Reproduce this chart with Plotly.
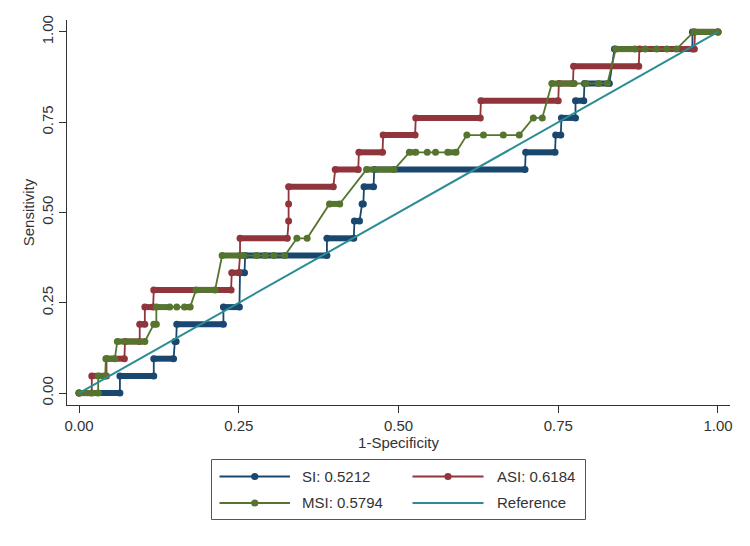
import plotly.graph_objects as go

N_POS = 21  # number of positive cases (sensitivity steps of 1/21)

# ---- SI : each step = horizontal run of ROC points at one sensitivity level ----
si_start = [0.000, 0.064, 0.117, 0.150, 0.153, 0.226, 0.252, 0.260, 0.388, 0.431, 0.443, 0.446,
            0.462, 0.699, 0.746, 0.755, 0.777, 0.791, 0.838, 0.960]
si_end = [0.064, 0.117, 0.148, 0.152, 0.226, 0.251, 0.259, 0.388, 0.430, 0.439, 0.445, 0.461,
          0.698, 0.745, 0.754, 0.777, 0.790, 0.830, 0.960, 1.000]
si_tp = [0, 1, 2, 3, 4, 5, 7, 8, 9, 10, 11, 12, 13, 14, 15, 16, 17, 18, 20, 21]
si_multi = [True] * 20

# ---- ASI ----
asi_start = [0.000, 0.020, 0.043, 0.072, 0.095, 0.103, 0.117, 0.239, 0.252, 0.252, 0.328, 0.328,
             0.328, 0.401, 0.438, 0.476, 0.527, 0.629, 0.751, 0.774, 0.877, 0.964]
asi_end = [0.020, 0.043, 0.071, 0.095, 0.103, 0.116, 0.238, 0.250, 0.252, 0.326, 0.328, 0.328,
           0.398, 0.437, 0.475, 0.526, 0.628, 0.750, 0.773, 0.876, 0.963, 1.000]
asi_tp = [0, 1, 2, 3, 4, 5, 6, 7, 8, 9, 10, 11, 12, 13, 14, 15, 16, 17, 18, 19, 20, 21]
asi_multi = [True] * 8 + [False, True, False, False] + [True] * 10

# ---- MSI ----
msi_start = [0.000, 0.030, 0.042, 0.060, 0.117, 0.121, 0.153, 0.165, 0.183, 0.224, 0.278, 0.291,
             0.305, 0.322, 0.341, 0.357, 0.392, 0.450, 0.517, 0.545, 0.558, 0.577, 0.607, 0.633,
             0.664, 0.689, 0.711, 0.725, 0.740, 0.793, 0.813, 0.827, 0.840, 0.886, 0.904, 0.920,
             0.935, 0.962]
msi_end = [0.030, 0.041, 0.056, 0.103, 0.121, 0.142, 0.153, 0.174, 0.213, 0.258, 0.278, 0.291,
           0.305, 0.322, 0.341, 0.357, 0.408, 0.493, 0.527, 0.545, 0.558, 0.590, 0.607, 0.633,
           0.664, 0.689, 0.711, 0.725, 0.775, 0.793, 0.813, 0.827, 0.870, 0.886, 0.904, 0.920,
           0.935, 1.000]
msi_tp = [0, 1, 2, 3, 4, 5, 5, 5, 6, 8, 8, 8, 8, 8, 9, 9, 11, 13, 14, 14, 14, 14, 15, 15, 15, 15,
          16, 16, 18, 18, 18, 18, 20, 20, 20, 20, 20, 21]
msi_multi = [True, True, True, True, True, True, False, True, True, True, False, False, False, False,
             False, False, True, True, True, False, False, True, False, False, False, False, False,
             False, True, False, False, False, True, False, False, False, False, True]

names = ["SI", "ASI", "MSI"]
aucs = [0.5212, 0.6184, 0.5794]
ref_x = [0, 1]
ref_y = [0, 1]

colors = {"SI": "#1a476f", "ASI": "#90353b", "MSI": "#55752f", "Reference": "#2b8c95"}
FONT = "Arial, 'Liberation Sans', sans-serif"
TXT = "#333333"

series = {
    "SI": (si_start, si_end, si_tp, si_multi),
    "ASI": (asi_start, asi_end, asi_tp, asi_multi),
    "MSI": (msi_start, msi_end, msi_tp, msi_multi),
}

fig = go.Figure()
for name in names:
    st, en, tp, multi = series[name]
    c = colors[name]
    # dense runs (many ROC points at one sensitivity) drawn as thick bars
    bx, by = [], []
    for s, e, k, m in zip(st, en, tp, multi):
        if m and e > s:
            bx += [s, e, None]
            by += [k / N_POS, k / N_POS, None]
    fig.add_trace(go.Scatter(x=bx, y=by, mode="lines", line=dict(color=c, width=6),
                             showlegend=False, hoverinfo="skip"))
    # step path through all vertices
    vx, vy = [], []
    for s, e, k in zip(st, en, tp):
        vx.append(s)
        vy.append(k / N_POS)
        if e != s:
            vx.append(e)
            vy.append(k / N_POS)
    fig.add_trace(go.Scatter(x=vx, y=vy, mode="lines+markers",
                             line=dict(color=c, width=1.8),
                             marker=dict(color=c, size=7, line=dict(width=0)),
                             showlegend=False, name=name))

fig.add_trace(go.Scatter(x=ref_x, y=ref_y, mode="lines",
                         line=dict(color=colors["Reference"], width=2),
                         showlegend=False, name="Reference"))

# plot area in pixels
L, R, T, B = 67, 730, 20, 405
W, H = 750, 546


def px(x):
    return (x - L) / (R - L)


def py(y):
    return (B - y) / (B - T)


shapes = [dict(type="rect", xref="paper", yref="paper",
               x0=px(211.5), x1=px(585.5), y0=py(519.5), y1=py(459.5),
               line=dict(color="#555555", width=1), fillcolor="white", layer="below")]
annotations = []
entries = [("SI", 0, 0), ("ASI", 1, 0), ("MSI", 0, 1), ("Reference", 1, 1)]
col_x = [(219.5, 290.0, 300.0), (412.5, 483.5, 495.0)]
row_y = [476.5, 503.0]
labels = {n: f"{n}: {a:.4f}" for n, a in zip(names, aucs)}
labels["Reference"] = "Reference"
for n, ci, ri in entries:
    x0, x1, tx = col_x[ci]
    yy = row_y[ri]
    c = colors[n]
    shapes.append(dict(type="line", xref="paper", yref="paper", x0=px(x0), x1=px(x1),
                       y0=py(yy), y1=py(yy), line=dict(color=c, width=1.8)))
    if n != "Reference":
        cx = (x0 + x1) / 2
        r = 3.6
        shapes.append(dict(type="circle", xref="paper", yref="paper",
                           x0=px(cx - r), x1=px(cx + r), y0=py(yy + r), y1=py(yy - r),
                           fillcolor=c, line=dict(width=0)))
    annotations.append(dict(xref="paper", yref="paper", x=px(tx), y=py(yy),
                            xanchor="left", yanchor="middle", showarrow=False,
                            text=labels[n], font=dict(family=FONT, size=15, color=TXT)))

axis_common = dict(showline=True, linecolor="#333333", linewidth=1, ticks="outside",
                   ticklen=7, tickcolor="#333333", showgrid=False, zeroline=False,
                   tickformat=".2f", tickvals=[0, 0.25, 0.5, 0.75, 1],
                   tickfont=dict(family=FONT, size=15, color=TXT))

fig.update_layout(
    width=W, height=H,
    margin=dict(l=L, r=W - R, t=T, b=H - B),
    paper_bgcolor="white", plot_bgcolor="white",
    showlegend=False,
    xaxis=dict(range=[-0.0188, 1.0188], title=dict(text="1-Specificity", standoff=0,
               font=dict(family=FONT, size=15, color=TXT)), **axis_common),
    yaxis=dict(range=[-0.033, 1.033], tickangle=-90,
               title=dict(text="Sensitivity", standoff=0,
                          font=dict(family=FONT, size=15, color=TXT)), **axis_common),
    shapes=shapes, annotations=annotations,
)

fig.write_html("out.html")
